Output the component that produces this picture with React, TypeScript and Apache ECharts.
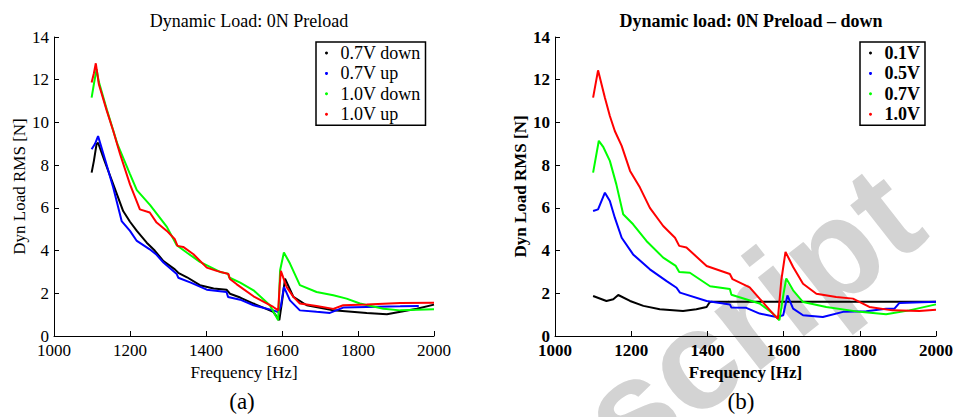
import React, { useEffect, useRef } from "react";
import * as echarts from "echarts";

// Left panel (a): Dynamic Load, 0N preload
const aBlackDown07: [number, number][] = [
  [1099, 7.65], [1105, 8.2], [1112, 8.98], [1116, 9.05], [1133, 8.2], [1156, 7.1], [1182, 5.85],
  [1200, 5.35], [1218, 4.92], [1244, 4.37], [1265, 4.0], [1288, 3.51], [1318, 3.12], [1327, 2.96],
  [1350, 2.75], [1384, 2.38], [1420, 2.22], [1454, 2.17], [1463, 1.98], [1490, 1.8], [1525, 1.52],
  [1577, 1.13], [1593, 0.74], [1600, 1.6], [1608, 2.69], [1630, 1.83], [1665, 1.44], [1735, 1.2],
  [1823, 1.08], [1876, 1.02], [1955, 1.28], [2000, 1.47],
];
const aBlueUp07: [number, number][] = [
  [1099, 8.74], [1108, 9.0], [1116, 9.36], [1133, 8.35], [1156, 6.94], [1178, 5.38], [1200, 4.92],
  [1218, 4.45], [1252, 4.06], [1270, 3.8], [1288, 3.44], [1323, 2.9], [1327, 2.73], [1360, 2.5],
  [1402, 2.17], [1454, 2.06], [1458, 1.83], [1490, 1.7], [1525, 1.44], [1577, 1.2], [1590, 1.12],
  [1597, 1.4], [1605, 2.3], [1621, 1.67], [1647, 1.2], [1691, 1.13], [1726, 1.08], [1761, 1.33],
  [1823, 1.36], [1911, 1.39], [1960, 1.41],
];
const aGreenDown10: [number, number][] = [
  [1099, 11.16], [1105, 11.8], [1112, 12.49], [1118, 11.9], [1139, 10.6], [1167, 8.98], [1200, 7.58],
  [1218, 6.83], [1253, 6.13], [1297, 5.11], [1323, 4.25], [1350, 3.9], [1384, 3.47], [1437, 3.0],
  [1458, 2.92], [1461, 2.74], [1490, 2.5], [1525, 2.14], [1568, 1.44], [1590, 0.74], [1595, 3.08],
  [1605, 3.91], [1621, 3.39], [1647, 2.38], [1691, 2.06], [1735, 1.91], [1770, 1.75], [1805, 1.52],
  [1867, 1.28], [1911, 1.2], [2000, 1.25],
];
const aRedUp10: [number, number][] = [
  [1099, 11.87], [1105, 12.3], [1110, 12.77], [1118, 11.79], [1139, 10.54], [1156, 9.6], [1174, 8.51],
  [1200, 7.1], [1226, 5.93], [1252, 5.78], [1270, 5.31], [1297, 4.92], [1318, 4.53], [1325, 4.22],
  [1340, 4.17], [1367, 3.83], [1402, 3.2], [1428, 3.05], [1459, 2.9], [1463, 2.67], [1481, 2.42],
  [1525, 1.86], [1577, 1.36], [1590, 1.2], [1594, 2.4], [1597, 3.05], [1612, 2.3], [1630, 1.83],
  [1647, 1.52], [1691, 1.4], [1735, 1.27], [1761, 1.44], [1823, 1.47], [1911, 1.55], [2000, 1.56],
];

// Right panel (b): Dynamic load, 0N preload - down
const b01: [number, number][] = [
  [1100, 1.87], [1135, 1.64], [1153, 1.72], [1166, 1.92], [1197, 1.64], [1232, 1.41], [1275, 1.25],
  [1336, 1.17], [1371, 1.25], [1398, 1.36], [1405, 1.56], [1410, 1.6], [1600, 1.6], [1800, 1.6],
  [2000, 1.6],
];
const b05: [number, number][] = [
  [1100, 5.85], [1113, 5.93], [1131, 6.71], [1144, 6.32], [1157, 5.54], [1175, 4.6], [1205, 3.82],
  [1249, 3.12], [1293, 2.57], [1319, 2.26], [1328, 2.03], [1398, 1.64], [1459, 1.48], [1463, 1.33],
  [1502, 1.32], [1537, 1.05], [1581, 0.89], [1599, 0.97], [1610, 1.9], [1625, 1.28], [1651, 0.97],
  [1703, 0.89], [1756, 1.13], [1817, 1.16], [1869, 1.28], [1891, 1.28], [1904, 1.55], [2000, 1.6],
];
const b07: [number, number][] = [
  [1100, 7.65], [1115, 9.14], [1127, 8.84], [1144, 8.2], [1161, 7.1], [1179, 5.7], [1205, 5.23],
  [1240, 4.45], [1284, 3.67], [1317, 3.28], [1326, 3.0], [1354, 2.96], [1407, 2.33], [1459, 2.2],
  [1463, 1.93], [1537, 1.52], [1572, 1.05], [1589, 0.74], [1600, 2.0], [1607, 2.69], [1625, 2.14],
  [1651, 1.59], [1712, 1.36], [1800, 1.13], [1869, 1.02], [1930, 1.2], [2000, 1.48],
];
const b10: [number, number][] = [
  [1100, 11.16], [1113, 12.44], [1131, 11.16], [1144, 10.3], [1157, 9.6], [1175, 8.9], [1197, 7.73],
  [1223, 6.95], [1249, 6.0], [1284, 5.15], [1315, 4.6], [1326, 4.22], [1345, 4.14], [1398, 3.28],
  [1459, 2.9], [1466, 2.66], [1511, 2.28], [1537, 1.75], [1572, 1.05], [1585, 0.81], [1594, 2.61],
  [1605, 3.94], [1625, 3.23], [1651, 2.45], [1686, 1.98], [1738, 1.83], [1782, 1.75], [1825, 1.36],
  [1886, 1.2], [1956, 1.17], [2000, 1.23],
];

const xTicksMin = 1000;
const xTicksMax = 2000;
const xStep = 200;
const yMin = 0;
const yMax = 14;
const yStep = 2;

const titleA = "Dynamic Load: 0N Preload";
const titleB = "Dynamic load: 0N Preload \u2013 down";
const xName = "Frequency [Hz]";
const yName = "Dyn Load RMS [N]";
const namesA = ["0.7V down", "0.7V up", "1.0V down", "1.0V up"];
const namesB = ["0.1V", "0.5V", "0.7V", "1.0V"];
const colors = ["#000000", "#0000ff", "#00ff00", "#ff0000"];
const watermark = "Manuscript";

const SERIF = "'Liberation Serif', 'DejaVu Serif', serif";

export default function App() {
  const ref = useRef<HTMLDivElement>(null);
  useEffect(() => {
    document.body.style.margin = "0";
    if (!ref.current) return;
    const chart = echarts.init(ref.current, undefined, { renderer: "svg" });

    const xAxisBase = (gridIndex: number, bold: boolean) => ({
      type: "value",
      gridIndex,
      min: xTicksMin,
      max: xTicksMax,
      interval: xStep,
      name: xName,
      nameLocation: "middle",
      nameGap: 22,
      nameTextStyle: { fontFamily: SERIF, fontSize: 17, color: "#000", fontWeight: bold ? "bold" : "normal" },
      axisLine: { lineStyle: { color: "#000", width: 1 } },
      axisTick: { inside: true, length: 5, lineStyle: { color: "#000" } },
      axisLabel: {
        fontFamily: SERIF,
        fontSize: 17,
        color: "#000",
        margin: 6,
        fontWeight: bold ? "bold" : "normal",
        formatter: (v: number) => String(v),
      },
      splitLine: { show: false },
    });
    const yAxisBase = (gridIndex: number, bold: boolean) => ({
      type: "value",
      gridIndex,
      min: yMin,
      max: yMax,
      interval: yStep,
      name: yName,
      nameLocation: "middle",
      nameGap: 24,
      nameTextStyle: { fontFamily: SERIF, fontSize: 17, color: "#000", fontWeight: bold ? "bold" : "normal" },
      axisLine: { show: true, lineStyle: { color: "#000", width: 1 } },
      axisTick: { show: true, inside: true, length: 5, lineStyle: { color: "#000" } },
      axisLabel: {
        fontFamily: SERIF,
        fontSize: 17,
        color: "#000",
        margin: 5,
        fontWeight: bold ? "bold" : "normal",
        formatter: (v: number) => String(v),
      },
      splitLine: { show: false },
    });

    const mk = (name: string, data: [number, number][], color: string, idx: number) => ({
      type: "line",
      name,
      data,
      xAxisIndex: idx,
      yAxisIndex: idx,
      showSymbol: false,
      symbol: "circle",
      color,
      lineStyle: { color, width: 2 },
      itemStyle: { color },
      z: 3,
    });

    const legendBase = (left: number, data: string[], bold: boolean) => ({
      left,
      top: 42,
      orient: "vertical",
      data,
      icon: "circle",
      itemWidth: 18,
      itemHeight: 3,
      itemGap: 0.4,
      borderColor: "#000",
      borderWidth: 1.5,
      borderRadius: 0,
      padding: [1, 5, 1, 9],
      selectedMode: false,
      textStyle: {
        fontFamily: SERIF,
        fontSize: 18,
        color: "#000",
        lineHeight: 20,
        fontWeight: bold ? "bold" : "normal",
      },
    });

    chart.setOption({
      animation: false,
      backgroundColor: "#ffffff",
      title: [
        {
          text: titleA,
          left: 244,
          top: 7,
          textAlign: "center",
          textStyle: { fontFamily: SERIF, fontSize: 18, fontWeight: "normal", color: "#000" },
        },
        {
          text: titleB,
          left: 746,
          top: 7,
          textAlign: "center",
          textStyle: { fontFamily: SERIF, fontSize: 18, fontWeight: "bold", color: "#000" },
        },
      ],
      grid: [
        { left: 54, top: 37, width: 380, height: 299 },
        { left: 555, top: 37, width: 381, height: 299 },
      ],
      xAxis: [xAxisBase(0, false), xAxisBase(1, true)],
      yAxis: [yAxisBase(0, false), yAxisBase(1, true)],
      legend: [legendBase(316, namesA, false), legendBase(860, namesB, true)],
      series: [
        mk(namesA[0], aBlackDown07, colors[0], 0),
        mk(namesA[1], aBlueUp07, colors[1], 0),
        mk(namesA[2], aGreenDown10, colors[2], 0),
        mk(namesA[3], aRedUp10, colors[3], 0),
        mk(namesB[0], b01, colors[0], 1),
        mk(namesB[1], b05, colors[1], 1),
        mk(namesB[2], b07, colors[2], 1),
        mk(namesB[3], b10, colors[3], 1),
      ],
      graphic: [
        {
          type: "text",
          x: 945,
          y: 253,
          rotation: (38 * Math.PI) / 180,
          z: -10,
          silent: true,
          style: {
            text: watermark,
            font: "bold 141px 'Liberation Sans', Arial, sans-serif",
            fill: "#d3d3d3",
            textAlign: "right",
            textVerticalAlign: "bottom",
          },
        },
        {
          type: "text",
          x: 242,
          y: 401,
          style: { text: "(a)", font: `23px ${SERIF}`, fill: "#000", textAlign: "center", textVerticalAlign: "middle" },
        },
        {
          type: "text",
          x: 741,
          y: 401,
          style: { text: "(b)", font: `23px ${SERIF}`, fill: "#000", textAlign: "center", textVerticalAlign: "middle" },
        },
      ],
    });
    return () => chart.dispose();
  }, []);
  return <div ref={ref} style={{ width: 956, height: 417 }} />;
}
